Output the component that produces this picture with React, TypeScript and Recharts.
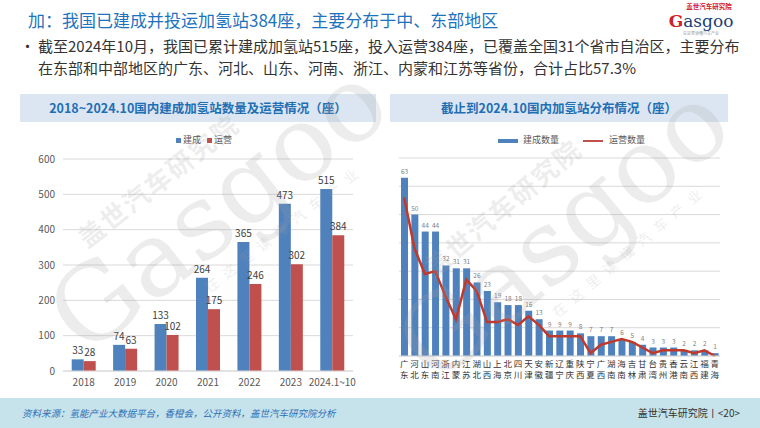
import React from 'react';
import { BarChart, Bar, ComposedChart, Line, XAxis, YAxis, CartesianGrid, LabelList } from 'recharts';

// left chart: yearly stations built / in operation
const years = ['2018', '2019', '2020', '2021', '2022', '2023', '2024.1~10'];
const builtByYear = [33, 74, 133, 264, 365, 473, 515];
const operatingByYear = [28, 63, 102, 175, 246, 302, 384];
const yearTicks = [0, 100, 200, 300, 400, 500, 600];

// right chart: distribution by province
const provinces = ['广东', '河北', '山东', '河南', '浙江', '内蒙', '江苏', '湖北', '山西', '上海', '北京', '四川', '天津', '安徽', '新疆', '辽宁', '重庆', '陕西', '宁夏', '广西', '湖南', '海南', '吉林', '甘肃', '台湾', '贵州', '香港', '云南', '江西', '福建', '青海'];
const builtByProvince = [63, 50, 44, 44, 32, 31, 31, 26, 23, 19, 18, 18, 16, 13, 9, 9, 9, 8, 7, 7, 7, 6, 5, 4, 3, 3, 3, 2, 2, 2, 1];
const operatingByProvince = [56, 38, 29, 30, 21, 13, 27, 23, 12, 12, 13, 11, 14, 11, 7, 7, 7, 7, 1, 4, 5, 6, 5, 3, 1, 2, 2, 2, 1, 2, 0];
const provinceTicks = [0, 10, 20, 30, 40, 50, 60, 70];

const FONT = '"Noto Sans CJK SC", "Noto Sans", sans-serif';
const BLUE = '#4F81BD';
const RED = '#C0504D';

const yearData = years.map((y, i) => ({ year: y, built: builtByYear[i], operating: operatingByYear[i] }));
const provinceData = provinces.map((p, i) => ({ name: p, built: builtByProvince[i], operating: operatingByProvince[i] }));

const ProvinceTick = (props: any) => {
  const { x, y, payload } = props;
  const chars = String(payload.value).split('');
  return (
    <text x={x} y={y} textAnchor="middle" fontSize={8.5} fill="#333">
      {chars.map((c, i) => (
        <tspan key={i} x={x} dy={11}>{c}</tspan>
      ))}
    </text>
  );
};

// faint publisher watermark over each panel
const Watermark = ({ left, top, angle }: { left: number; top: number; angle: number }) => (
  <div style={{ position: 'absolute', left, top, width: 0, height: 0, pointerEvents: 'none' }}>
    <div
      style={{
        position: 'absolute', left: -210, top: -78, width: 420, textAlign: 'center',
        transform: `rotate(${angle}deg)`, color: 'rgba(160,160,160,0.2)', fontFamily: FONT, lineHeight: 1,
      }}
    >
      <div style={{ fontSize: 26, fontWeight: 700, letterSpacing: 2, marginLeft: -60 }}>盖世汽车研究院</div>
      <div style={{ marginTop: -6 }}>
        <span style={{ display: 'inline-block', fontSize: 105, fontFamily: '"DejaVu Serif", serif', whiteSpace: 'nowrap' }}>Gasgoo</span>
      </div>
      <div style={{ fontSize: 14, letterSpacing: 8, marginTop: -4, marginLeft: 80 }}>在这里读懂汽车产业</div>
    </div>
  </div>
);

const bandStyle = (left: number, width: number): React.CSSProperties => ({
  position: 'absolute', left, top: 94, width, height: 28, background: '#DCE6F2',
  color: '#1F6FB5', fontWeight: 700, fontSize: 12.5, lineHeight: '28px', textAlign: 'center',
});

const bulletLine = (top: number): React.CSSProperties => ({
  position: 'absolute', left: 20, top, fontSize: 15, lineHeight: '18px', color: '#333', whiteSpace: 'nowrap',
});

export default function App() {
  return (
    <div style={{ position: 'absolute', left: 0, top: 0, width: 760, height: 428, background: '#fff', fontFamily: FONT, overflow: 'hidden' }}>
      {/* page header */}
      <div style={{ position: 'absolute', left: 28, top: 8, fontSize: 17, lineHeight: '24px', color: '#1E73BE', whiteSpace: 'nowrap' }}>
        加：我国已建成并投运加氢站384座，主要分布于中、东部地区
      </div>
      <div style={{ position: 'absolute', left: 664, top: 1, width: 74, textAlign: 'center' }}>
        <div style={{ fontSize: 6.5, color: '#D0202A', fontWeight: 700, lineHeight: '10px', marginLeft: 16 }}>盖世汽车研究院</div>
        <div style={{ fontSize: 17, lineHeight: '20px', fontFamily: '"DejaVu Serif", serif', color: '#1B3F7A' }}>
          <span style={{ color: '#D0202A', fontWeight: 700 }}>G</span>asgoo
        </div>
        <div style={{ fontSize: 4, color: '#999', lineHeight: '5px' }}>在这里读懂汽车产业</div>
      </div>
      <div style={bulletLine(37)}>
        <span style={{ display: 'inline-block', width: 18 }}>•</span>截至2024年10月，我国已累计建成加氢站515座，投入运营384座，已覆盖全国31个省市自治区，主要分布
      </div>
      <div style={{ ...bulletLine(59), left: 38 }}>
        在东部和中部地区的广东、河北、山东、河南、浙江、内蒙和江苏等省份，合计占比57.3%
      </div>

      {/* left panel */}
      <div style={bandStyle(20, 356)}>2018~2024.10国内建成加氢站数量及运营情况（座）</div>
      <div style={{ position: 'absolute', left: 176, top: 133, fontSize: 9, color: '#595959', whiteSpace: 'nowrap', lineHeight: '14px' }}>
        <span style={{ display: 'inline-block', width: 5, height: 5, background: BLUE, marginRight: 2 }} />建成
        <span style={{ display: 'inline-block', width: 5, height: 5, background: RED, marginLeft: 6, marginRight: 2 }} />运营
      </div>
      <div style={{ position: 'absolute', left: 20, top: 150 }}>
        <BarChart width={350} height={240} data={yearData} margin={{ top: 9, right: 17, bottom: 0, left: 13 }} barGap={0} barCategoryGap="21%">
          <CartesianGrid vertical={false} stroke="#D9D9D9" />
          <XAxis dataKey="year" height={19} tickLine={false} axisLine={{ stroke: '#D9D9D9' }} tick={{ fontSize: 10, fill: '#595959' }} interval={0} />
          <YAxis width={30} domain={[0, 600]} ticks={yearTicks} tickLine={false} axisLine={false} tick={{ fontSize: 10, fill: '#595959' }} />
          <Bar dataKey="built" fill={BLUE} isAnimationActive={false}>
            <LabelList dataKey="built" position="top" fontSize={10} fill="#404040" />
          </Bar>
          <Bar dataKey="operating" fill={RED} isAnimationActive={false}>
            <LabelList dataKey="operating" position="top" fontSize={10} fill="#404040" />
          </Bar>
        </BarChart>
      </div>

      {/* right panel */}
      <div style={bandStyle(390, 338)}>截止到2024.10国内加氢站分布情况（座）</div>
      <div style={{ position: 'absolute', left: 498, top: 133, fontSize: 9, color: '#595959', whiteSpace: 'nowrap', lineHeight: '14px' }}>
        <span style={{ display: 'inline-block', width: 20, height: 4, background: BLUE, marginRight: 5, verticalAlign: 'middle' }} />建成数量
        <span style={{ display: 'inline-block', width: 20, height: 2, background: RED, marginLeft: 24, marginRight: 6, verticalAlign: 'middle' }} />运营数量
      </div>
      <div style={{ position: 'absolute', left: 385, top: 150 }}>
        <ComposedChart width={345} height={238} data={provinceData} margin={{ top: 8, right: 10, bottom: 0, left: 14 }} barCategoryGap="16%">
          <CartesianGrid vertical={false} stroke="#D9D9D9" />
          <XAxis dataKey="name" height={32} interval={0} tickLine={false} tickSize={0} tickMargin={0} axisLine={{ stroke: '#D9D9D9' }} tick={<ProvinceTick />} />
          <YAxis hide domain={[0, 70]} ticks={provinceTicks} />
          <Bar dataKey="built" fill={BLUE} barSize={7} isAnimationActive={false}>
            <LabelList dataKey="built" position="top" offset={4} fontSize={6.5} fill="#7F7F7F" />
          </Bar>
          <Line dataKey="operating" type="linear" stroke="#C0392B" strokeWidth={2.5} dot={false} isAnimationActive={false} />
        </ComposedChart>
      </div>

      <Watermark left={215} top={215} angle={-38} />
      <Watermark left={560} top={240} angle={-40} />

      {/* footer */}
      <div style={{ position: 'absolute', left: 0, top: 398, width: 760, height: 30, background: '#C6E3EC' }} />
      <div style={{ position: 'absolute', left: 22, top: 405, fontSize: 9.5, lineHeight: '16px', color: '#2F6EB5', fontStyle: 'italic', whiteSpace: 'nowrap' }}>
        资料来源：氢能产业大数据平台，香橙会，公开资料，盖世汽车研究院分析
      </div>
      <div style={{ position: 'absolute', right: 20, top: 405, fontSize: 10, lineHeight: '16px', color: '#333', whiteSpace: 'nowrap' }}>
        盖世汽车研究院丨&lt;20&gt;
      </div>
    </div>
  );
}
